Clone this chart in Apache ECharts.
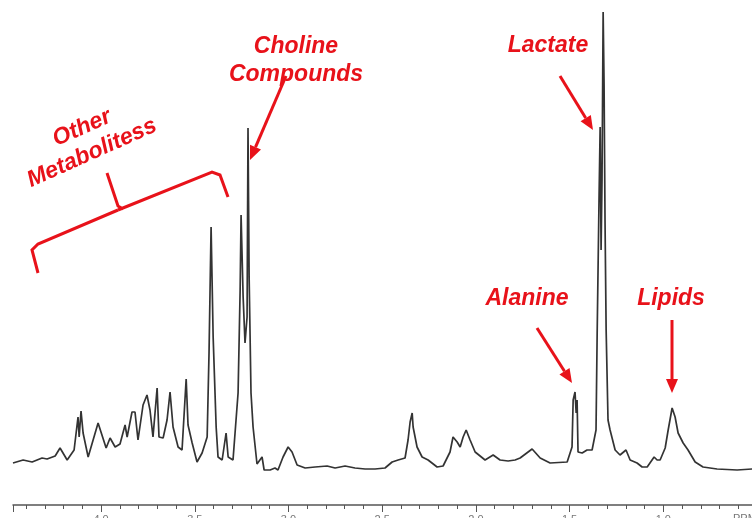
<!DOCTYPE html>
<html>
<head>
<meta charset="utf-8">
<script src="https://cdn.jsdelivr.net/npm/echarts@6/dist/echarts.min.js"></script>
<style>html,body{margin:0;padding:0;background:#fff;}#c{width:752px;height:518px;}</style>
</head>
<body>
<div id="c"></div>
<script>
// Chemical shift (ppm) and signal intensity (a.u.)
const ppm = [4.470,4.416,4.368,4.315,4.288,4.245,4.219,4.181,4.144,4.123,4.117,4.107,4.096,4.069,4.016,3.973,3.952,3.925,3.899,3.872,3.861,3.835,3.819,3.803,3.776,3.755,3.739,3.723,3.701,3.691,3.669,3.648,3.632,3.616,3.589,3.568,3.546,3.536,3.514,3.488,3.461,3.434,3.424,3.413,3.402,3.386,3.376,3.354,3.333,3.322,3.296,3.269,3.258,3.253,3.242,3.232,3.221,3.216,3.210,3.200,3.189,3.168,3.141,3.130,3.098,3.072,3.056,3.029,3.002,2.981,2.954,2.911,2.858,2.794,2.751,2.698,2.645,2.591,2.538,2.485,2.447,2.415,2.378,2.362,2.351,2.340,2.335,2.314,2.287,2.255,2.207,2.175,2.138,2.122,2.100,2.084,2.068,2.052,2.031,2.004,1.951,1.908,1.871,1.828,1.791,1.764,1.700,1.657,1.604,1.513,1.487,1.481,1.471,1.465,1.460,1.455,1.433,1.407,1.380,1.359,1.353,1.343,1.337,1.332,1.327,1.321,1.316,1.311,1.305,1.295,1.284,1.257,1.231,1.199,1.177,1.140,1.113,1.086,1.049,1.033,1.017,0.990,0.974,0.953,0.937,0.921,0.894,0.868,0.830,0.788,0.713,0.606,0.526];
const intensity = [9,12,10,14,13,16,24,12,22,55,35,61,39,15,49,24,34,25,28,47,35,60,60,32,67,77,62,35,84,35,34,52,80,45,25,22,93,47,29,10,19,35,119,245,135,45,15,12,39,15,12,79,182,257,175,129,155,344,195,79,45,8,15,2,2,4,2,15,25,20,7,4,5,6,4,6,4,3,3,4,10,12,14,32,50,59,45,25,15,12,5,6,20,35,30,25,35,42,32,20,12,17,12,11,12,14,23,14,9,10,25,72,80,59,72,20,19,22,22,42,137,272,345,222,292,460,387,252,142,52,42,22,17,22,12,9,5,5,15,12,12,24,42,64,55,39,29,22,10,5,3,2,3];
const majorTickValues = [4.0, 3.5, 3.0, 2.5, 2.0, 1.5, 1.0];
const axisUnit = 'PPM';
const labels = {
  choline: ['Choline', 'Compounds'],
  lactate: 'Lactate',
  alanine: 'Alanine',
  lipids: 'Lipids',
  other: ['Other', 'Metabolitess']
};

const chart = echarts.init(document.getElementById('c'), null, {renderer: 'canvas'});
const RED = '#e8121a';
const FONT = 'bold italic 23px "Liberation Sans", Arial, sans-serif';

function txt(s, x, y, rot) {
  return {type: 'text', x: x, y: y, rotation: rot || 0, z: 20,
    style: {text: s, font: FONT, fill: RED, align: 'center', verticalAlign: 'middle'}};
}
function arrow(x1, y1, x2, y2) {
  const dx = x2 - x1, dy = y2 - y1, L = Math.sqrt(dx*dx + dy*dy);
  const ux = dx / L, uy = dy / L, hl = 14, hw = 6;
  const bx = x2 - ux*hl, by = y2 - uy*hl;
  return [
    {type: 'line', z: 20, shape: {x1: x1, y1: y1, x2: bx, y2: by}, style: {stroke: RED, lineWidth: 3}},
    {type: 'polygon', z: 20, shape: {points: [[x2, y2], [bx - uy*hw, by + ux*hw], [bx + uy*hw, by - ux*hw]]}, style: {fill: RED}}
  ];
}

const data = ppm.map((p, i) => [p, intensity[i]]);

const graphics = [
  txt(labels.choline[0], 296, 47), txt(labels.choline[1], 296, 75),
  txt(labels.lactate, 548, 46),
  txt(labels.alanine, 527, 299),
  txt(labels.lipids, 671, 299),
  txt(labels.other[0], 82, 128, 0.42),
  txt(labels.other[1], 92, 153, 0.42),
  {type: 'polyline', z: 20, shape: {points: [[38,273],[32,250],[38,244],[118,210]]}, style: {stroke: RED, lineWidth: 3, fill: null}},
  {type: 'polyline', z: 20, shape: {points: [[107,173],[118,206],[123,209]]}, style: {stroke: RED, lineWidth: 3, fill: null}},
  {type: 'polyline', z: 20, shape: {points: [[118,210],[212,172],[220,175],[228,197]]}, style: {stroke: RED, lineWidth: 3, fill: null}},
  ...arrow(286, 76, 250, 160),
  ...arrow(560, 76, 593, 130),
  ...arrow(537, 328, 572, 383),
  ...arrow(672, 320, 672, 393),
  {type: 'text', left: 733, top: 513, style: {text: axisUnit, font: '11px "Liberation Sans", Arial, sans-serif', fill: '#777'}}
];

chart.setOption({
  animation: false,
  backgroundColor: '#fff',
  grid: {left: 13, right: -5, top: 2, bottom: 46, containLabel: false, outerBoundsMode: 'none'},
  xAxis: [
    {type: 'value', inverse: true, min: 0.5, max: 4.47, interval: 0.1, position: 'bottom', offset: 33,
     axisLine: {show: true, onZero: false, lineStyle: {color: '#555', width: 1.5}},
     axisTick: {show: true, inside: false, length: 4, lineStyle: {color: '#555', width: 1}},
     axisLabel: {show: false}, splitLine: {show: false}},
    {type: 'value', inverse: true, min: 0.5, max: 4.47, interval: 0.5, position: 'bottom', offset: 33,
     axisLine: {show: false, onZero: false},
     axisTick: {show: true, length: 7, lineStyle: {color: '#555', width: 1}},
     axisLabel: {show: true, margin: 9, fontSize: 11, color: '#777', fontFamily: '"Liberation Sans", Arial, sans-serif',
       formatter: v => majorTickValues.some(t => Math.abs(t - v) < 1e-6) ? v.toFixed(1) : ''},
     splitLine: {show: false}}
  ],
  yAxis: {type: 'value', min: 0, max: 470, show: false, splitLine: {show: false}},
  series: [{
    type: 'line', xAxisIndex: 0, data: data, showSymbol: false, symbol: 'none', smooth: false,
    lineStyle: {color: '#333', width: 1.7}, clip: false
  }],
  graphic: graphics
});
</script>
</body>
</html>
